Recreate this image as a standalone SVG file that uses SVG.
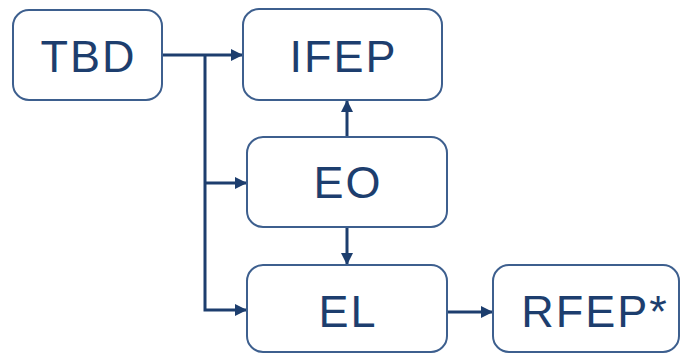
<svg xmlns="http://www.w3.org/2000/svg" width="681" height="354" viewBox="0 0 681 354">
<defs>
<marker id="ah" markerWidth="12" markerHeight="12" refX="11" refY="6" orient="auto" markerUnits="userSpaceOnUse">
<path d="M0,0 L12,6 L0,12 Z" fill="#1d3e6e"/>
</marker>
</defs>
<style>
.box{fill:#fff;stroke:#3d5f8e;stroke-width:2}
.lbl{font-family:"Liberation Sans",Arial,sans-serif;font-size:45px;fill:#1d3e6e;text-anchor:middle;letter-spacing:2px}
.con{fill:none;stroke:#1d3e6e;stroke-width:3}
</style>
<rect width="681" height="354" fill="#fff"/>
<g id="connectors">
<path class="con" d="M162,55 H242" marker-end="url(#ah)"/>
<path class="con" d="M205,55 V310 H246" marker-end="url(#ah)"/>
<path class="con" d="M205,183 H246" marker-end="url(#ah)"/>
<path class="con" d="M347,137 V101" marker-end="url(#ah)"/>
<path class="con" d="M347,227 V264" marker-end="url(#ah)"/>
<path class="con" d="M447,312 H492" marker-end="url(#ah)"/>
</g>
<g id="TBD"><rect class="box" x="13" y="10" width="149" height="90" rx="16"/><text class="lbl" x="88.5" y="72">TBD</text></g>
<g id="IFEP"><rect class="box" x="243" y="9" width="199" height="91" rx="16"/><text class="lbl" x="343.5" y="72">IFEP</text></g>
<g id="EO"><rect class="box" x="247" y="137" width="200" height="90" rx="16"/><text class="lbl" x="348" y="198">EO</text></g>
<g id="EL"><rect class="box" x="247" y="265" width="200" height="87" rx="16"/><text class="lbl" x="348" y="327">EL</text></g>
<g id="RFEP"><rect class="box" x="493" y="265" width="186" height="87" rx="16"/><text class="lbl" x="595" y="327">RFEP*</text></g>
</svg>
